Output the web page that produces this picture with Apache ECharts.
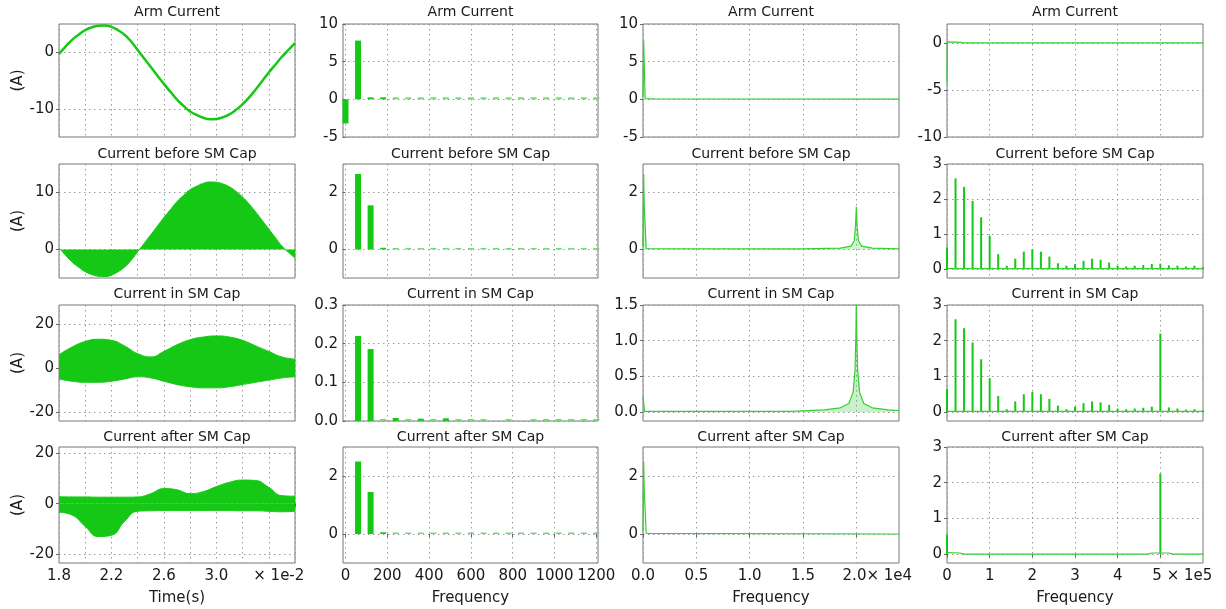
<!DOCTYPE html>
<html>
<head>
<meta charset="utf-8">
<script src="https://cdn.jsdelivr.net/npm/echarts@6/dist/echarts.min.js"></script>
<style>
html, body { margin: 0; padding: 0; background: #fff; }
#chart { width: 1226px; height: 609px; }
</style>
</head>
<body>
<div id="chart"></div>
<script>
// ---- data (time in units of 1e-2 s, frequency in Hz, currents in A) ----
const titles = ['Arm Current', 'Current before SM Cap', 'Current in SM Cap', 'Current after SM Cap']

const timeFine = [1.8, 1.85, 1.9, 1.95, 2.0, 2.05, 2.1, 2.15, 2.2, 2.25, 2.3, 2.35, 2.4, 2.45, 2.5, 2.55, 2.6, 2.65, 2.7,
  2.75, 2.8, 2.85, 2.9, 2.95, 3.0, 3.05, 3.1, 3.15, 3.2, 3.25, 3.3, 3.35, 3.4, 3.45, 3.5, 3.55, 3.6]
const armCurrent = [-0.3, 1.0, 2.2, 3.1, 3.9, 4.4, 4.7, 4.75, 4.5, 3.9, 3.1, 1.9, 0.4, -1.1, -2.6, -4.1, -5.6, -7.0, -8.4,
  -9.5, -10.5, -11.1, -11.6, -11.85, -11.8, -11.5, -11.0, -10.2, -9.2, -8.0, -6.6, -5.1, -3.6, -2.2, -0.8, 0.4, 1.6]
const beforeCapCurrent = [0.3, -1.0, -2.2, -3.1, -3.9, -4.4, -4.7, -4.75, -4.5, -3.9, -3.1, -1.9, -0.4, 1.1, 2.6, 4.1, 5.6, 7.0, 8.4,
  9.5, 10.5, 11.1, 11.6, 11.85, 11.8, 11.5, 11.0, 10.2, 9.2, 8.0, 6.6, 5.1, 3.6, 2.1, 0.6, -0.5, -1.5]

const time = [1.8, 1.9, 2.0, 2.1, 2.2, 2.3, 2.4, 2.5, 2.6, 2.7, 2.8, 2.9, 3.0, 3.1, 3.2, 3.3, 3.4, 3.5, 3.6]
const inCapUpper = [6, 9.5, 12, 13, 12.5, 10, 6.5, 5, 7.5, 10.5, 12.8, 14, 14.5, 14, 12.5, 10, 7.5, 5, 4]
const inCapLower = [-5, -6, -6.5, -6.5, -6, -5, -4, -4.5, -6, -7.5, -8.5, -9, -9, -8.5, -7.5, -6.5, -5.5, -4.5, -4]
const afterCapUpper = [2.8, 2.7, 2.7, 2.6, 2.6, 2.6, 2.7, 4.0, 6.0, 5.5, 4.0, 4.8, 6.8, 8.5, 9.4, 9.2, 6.5, 3.2, 3.0]
const afterCapLower = [-3.4, -4.5, -9, -13, -12.5, -7, -3, -2.8, -2.7, -2.7, -2.7, -2.7, -2.7, -2.7, -2.8, -2.8, -3.0, -3.2, -3.0]

// harmonics of 60 Hz, 0..1200 Hz
const harmonicFreq = [0, 60, 120, 180, 240, 300, 360, 420, 480, 540, 600, 660, 720, 780, 840, 900, 960, 1020, 1080, 1140, 1200]
const armHarmonics = [-3.2, 7.8, 0.25, 0.25, 0.08, 0.08, 0.06, 0.05, 0.05, 0.04, 0.04, 0.04, 0.03, 0.03, 0.03, 0.03, 0.03, 0.03, 0.03, 0.03, 0.03]
const beforeCapHarmonics = [null, 2.65, 1.55, 0.06, 0.03, 0.02, 0.02, 0.02, 0.02, 0.02, 0.02, 0.02, 0.02, 0.02, 0.02, 0.02, 0.02, 0.02, 0.02, 0.02, 0.02]
const inCapHarmonics = [null, 0.22, 0.186, 0.005, 0.008, 0.003, 0.006, 0.003, 0.007, 0.005, 0.004, 0.004, null, 0.004, null, 0.002, 0.005, 0.003, 0.003, 0.002, 0.002]
const afterCapHarmonics = [null, 2.5, 1.45, 0.06, 0.02, 0.02, 0.02, 0.02, 0.02, 0.02, 0.02, 0.02, 0.02, 0.02, 0.02, 0.02, 0.02, 0.02, 0.02, 0.02, 0.02]

// spectra 0..24 kHz
const armMid = [[0, 0.3], [60, 7.8], [200, 0.1], [1000, 0.05], [24000, 0.02]]
const beforeCapMid = [[0, 0.1], [60, 2.65], [120, 1.5], [300, 0.03], [15000, 0.02], [18500, 0.05], [19500, 0.12], [19800, 0.3],
  [19920, 0.8], [20000, 1.5], [20080, 0.8], [20200, 0.3], [20500, 0.12], [21500, 0.05], [24000, 0.02]]
const inCapMid = [[0, 0.22], [150, 0.01], [14000, 0.01], [17000, 0.03], [18500, 0.06], [19300, 0.12], [19700, 0.28], [19880, 0.6],
  [19960, 1.1], [20000, 1.6], [20040, 1.1], [20120, 0.6], [20300, 0.28], [20700, 0.12], [21500, 0.06], [23000, 0.03], [24000, 0.02]]
const afterCapMid = [[0, 0.1], [60, 2.5], [120, 1.45], [300, 0.02], [24000, 0.0]]

// spectra 0..600 kHz, lines every 20 kHz
const carrierFreq = [0, 20000, 40000, 60000, 80000, 100000, 120000, 140000, 160000, 180000, 200000, 220000, 240000, 260000, 280000,
  300000, 320000, 340000, 360000, 380000, 400000, 420000, 440000, 460000, 480000, 500000, 520000, 540000, 560000, 580000, 600000]
const beforeCapWide = [0.62, 2.59, 2.35, 1.95, 1.48, 0.95, 0.43, 0.1, 0.3, 0.5, 0.57, 0.5, 0.36, 0.17, 0.1, 0.14, 0.24, 0.3, 0.27,
  0.19, 0.1, 0.08, 0.1, 0.12, 0.15, 0.16, 0.11, 0.1, 0.08, 0.1, 0.06]
const inCapWide = [0.65, 2.6, 2.35, 1.95, 1.48, 0.95, 0.45, 0.08, 0.3, 0.5, 0.57, 0.5, 0.37, 0.18, 0.08, 0.15, 0.25, 0.3, 0.27,
  0.2, 0.1, 0.08, 0.1, 0.12, 0.15, 2.2, 0.13, 0.1, 0.07, 0.08, 0.05]
const afterCapWide = [[0, 0.55], [500000, 2.25]]
const armWide = [[0, -4.2], [600, 0.1], [3000, 0.08], [30000, 0.05], [40000, 0.0], [600000, 0.0]]
const wideBaseline = [[0, 0.02], [600000, 0.02]]
const afterCapBaseline = [[0, 0.04], [30000, 0.03], [40000, 0], [470000, 0], [480000, 0.03], [520000, 0.03], [530000, 0], [600000, 0]]

// ticks
const timeTicks = [1.8, 2.0, 2.2, 2.4, 2.6, 2.8, 3.0, 3.2, 3.4, 3.6]
const timeLabels = [1.8, 2.2, 2.6, 3.0, 3.4]
const lowFreqTicks = [0, 200, 400, 600, 800, 1000, 1200]
const midFreqTicks = [0, 5000, 10000, 15000, 20000]
const wideFreqTicks = [0, 100000, 200000, 300000, 400000, 500000]

// ---- layout ----
const FONT = 'DejaVu Sans'
const GREEN = '#16c816'
const LIGHT_GREEN = '#72da72'
const LINE_GREEN = '#33cf33'
const colLeft = [59, 343, 643, 947]
const colWidth = [236, 255, 256, 256]
const rowTop = [24, 164, 305, 447]
const rowHeight = [113, 114, 116, 116]
const titleTop = [5, 147, 287, 430]

const xSpec = [
  { min: 1.8, max: 3.6, ticks: timeTicks, labels: timeLabels, pad: 20, name: 'Time(s)',
    fmt: (v) => Math.abs(v - 3.4) < 1e-6 ? '{u|× 1e-2}' : v.toFixed(1) },
  { min: -12, max: 1208, ticks: lowFreqTicks, labels: lowFreqTicks, pad: 0, name: 'Frequency',
    fmt: (v) => String(Math.round(v)) },
  { min: 0, max: 24000, ticks: midFreqTicks, labels: midFreqTicks, pad: 42, name: 'Frequency',
    fmt: (v) => v === 20000 ? '{u|2.0× 1e4}' : (v / 1e4).toFixed(1) },
  { min: 0, max: 600000, ticks: wideFreqTicks, labels: wideFreqTicks, pad: 44, name: 'Frequency',
    fmt: (v) => v === 500000 ? '{u|5 × 1e5}' : String(v / 1e5) }
]

// [min, max, tick values, decimals] per row/column
const ySpec = [
  [[-15, 5, [-10, 0], 0], [-5, 10, [-5, 0, 5, 10], 0], [-5, 10, [-5, 0, 5, 10], 0], [-10, 2, [-10, -5, 0], 0]],
  [[-5, 15, [0, 10], 0], [-1, 3, [0, 2], 0], [-1, 3, [0, 2], 0], [-0.25, 3, [0, 1, 2, 3], 0]],
  [[-24, 28.5, [-20, 0, 20], 0], [0, 0.3, [0, 0.1, 0.2, 0.3], 1], [-0.125, 1.5, [0, 0.5, 1, 1.5], 1], [-0.25, 3, [0, 1, 2, 3], 0]],
  [[-23.5, 22.5, [-20, 0, 20], 0], [-1, 3, [0, 2], 0], [-1, 3, [0, 2], 0], [-0.25, 3, [0, 1, 2, 3], 0]]
]

const zip = (xs, ys) => xs.map((x, i) => [x, ys[i]]).filter((p) => p[1] !== null)

function lineSeries(i, data, opts = {}) {
  return Object.assign({
    type: 'line', xAxisIndex: i, yAxisIndex: i, data, showSymbol: false, symbol: 'none',
    lineStyle: { color: LINE_GREEN, width: 1.2 }, itemStyle: { color: LINE_GREEN }
  }, opts)
}

// small harmonics are drawn lighter, like the dash-dot zero line of the original
function barSeries(i, data, width, minH, small) {
  return {
    type: 'bar', xAxisIndex: i, yAxisIndex: i, data, barWidth: width, barMinHeight: minH,
    itemStyle: { color: (p) => Math.abs(p.value[1]) < small ? LIGHT_GREEN : GREEN }
  }
}

const envelopeArea = { color: GREEN, opacity: 1 }
const envLine = { color: GREEN, width: 1 }
const panelSeries = [
  // row 1: arm current
  [lineSeries(0, zip(timeFine, armCurrent), { smooth: true, lineStyle: { color: GREEN, width: 2.5 } })],
  [barSeries(1, zip(harmonicFreq, armHarmonics), 6, 2, 0.2)],
  [lineSeries(2, armMid)],
  [lineSeries(3, armWide)],
  // row 2: before SM cap
  [lineSeries(4, zip(timeFine, beforeCapCurrent), { smooth: true, lineStyle: envLine, areaStyle: envelopeArea })],
  [barSeries(5, zip(harmonicFreq, beforeCapHarmonics), 6, 1.5, 0.05)],
  [lineSeries(6, beforeCapMid, { areaStyle: { color: 'rgba(60,205,60,0.35)' } })],
  [lineSeries(7, wideBaseline), barSeries(7, zip(carrierFreq, beforeCapWide), 2, 0, 0)],
  // row 3: in SM cap
  [lineSeries(8, zip(time, inCapUpper), { smooth: true, lineStyle: envLine, areaStyle: envelopeArea }),
   lineSeries(8, zip(time, inCapLower), { smooth: true, lineStyle: envLine, areaStyle: envelopeArea })],
  [barSeries(9, zip(harmonicFreq, inCapHarmonics), 6, 2, 0.006)],
  [lineSeries(10, inCapMid, { areaStyle: { color: 'rgba(60,205,60,0.4)' } })],
  [lineSeries(11, wideBaseline), barSeries(11, zip(carrierFreq, inCapWide), 2, 0, 0)],
  // row 4: after SM cap
  [lineSeries(12, zip(time, afterCapUpper), { smooth: true, lineStyle: envLine, areaStyle: envelopeArea }),
   lineSeries(12, zip(time, afterCapLower), { smooth: true, lineStyle: envLine, areaStyle: envelopeArea })],
  [barSeries(13, zip(harmonicFreq, afterCapHarmonics), 6, 1.5, 0.05)],
  [lineSeries(14, afterCapMid)],
  [lineSeries(15, afterCapBaseline), barSeries(15, afterCapWide, 2, 0, 0)]
]

const dotted = { color: '#9a9a9a', width: 1, type: [1.5, 3.5] }
const labelStyle = { fontFamily: FONT, fontSize: 15, color: '#1a1a1a' }

const option = {
  animation: false,
  backgroundColor: '#fff',
  textStyle: { fontFamily: FONT },
  title: [], grid: [], xAxis: [], yAxis: [], series: []
}

for (let r = 0; r < 4; r++) {
  for (let c = 0; c < 4; c++) {
    const i = r * 4 + c
    const xs = xSpec[c]
    const [ymin, ymax, yticks, dec] = ySpec[r][c]
    option.grid.push({
      left: colLeft[c], top: rowTop[r], width: colWidth[c], height: rowHeight[r],
      show: true, borderColor: '#777', borderWidth: 1
    })
    option.title.push({
      text: titles[r], left: colLeft[c] + colWidth[c] / 2, top: titleTop[r], textAlign: 'center', padding: 0,
      textStyle: { fontFamily: FONT, fontSize: 14, fontWeight: 'normal', color: '#1a1a1a' }
    })
    option.xAxis.push({
      type: 'value', gridIndex: i, min: xs.min, max: xs.max,
      axisLine: { show: false },
      axisTick: { show: r === 3, length: 3, customValues: xs.ticks, lineStyle: { color: '#666' } },
      axisLabel: Object.assign({
        show: r === 3, customValues: xs.labels, formatter: xs.fmt, margin: 6,
        rich: { u: Object.assign({ padding: [0, 0, 0, xs.pad] }, labelStyle) }
      }, labelStyle),
      splitLine: { show: true, lineStyle: dotted },
      name: r === 3 ? xs.name : '', nameLocation: 'middle', nameGap: 28,
      nameTextStyle: labelStyle
    })
    option.yAxis.push({
      type: 'value', gridIndex: i, min: ymin, max: ymax,
      axisLine: { show: false },
      axisTick: { show: true, length: 3, customValues: yticks, lineStyle: { color: '#666' } },
      axisLabel: Object.assign({ customValues: yticks, margin: 5, formatter: (v) => v.toFixed(dec) }, labelStyle),
      splitLine: { show: true, lineStyle: dotted },
      name: c === 0 ? '(A)' : '', nameLocation: 'middle', nameRotate: 90, nameGap: 33,
      nameTextStyle: labelStyle
    })
    option.series.push(...panelSeries[i])
  }
}

const chart = echarts.init(document.getElementById('chart'))
chart.setOption(option)
</script>
</body>
</html>
